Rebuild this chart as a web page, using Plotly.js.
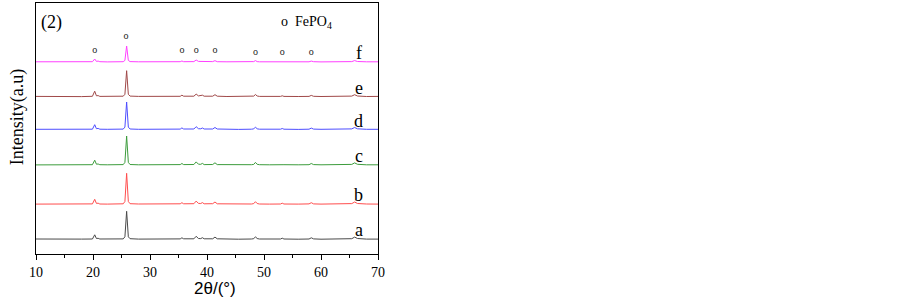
<!DOCTYPE html>
<html>
<head>
<meta charset="utf-8">
<script src="https://cdn.plot.ly/plotly-3.0.1.min.js"></script>
<style>html,body{margin:0;padding:0;background:#fff;}#chart{width:903px;height:299px;}</style>
</head>
<body>
<div id="chart"></div>
<script>
// 2θ positions (degrees), shared by all patterns
const twoTheta = [10,12,14,16,18,19.9,20.3,20.6,20.9,21.2,22.5,24,25.3,25.6,25.9,26.2,26.5,28,30,32,34,35.3,35.6,35.9,37.7,38.1,38.5,38.9,39.2,39.5,41.0,41.4,41.8,43.5,45.5,47.8,48.2,48.5,48.8,49.2,51,52.9,53.2,53.5,56,57.9,58.3,58.7,60,61.5,61.8,62.1,64,65.4,65.9,66.4,68,70];

// intensities (a.u.) of each sample
const intA = [0.3,0.1,0.2,0,0.2,0.3,4.5,0.8,1.0,0.3,0.1,0.2,0.4,2.5,28,2.5,0.6,0.2,0.1,0.2,0.3,0.4,1.5,0.5,0.5,3,0.8,0.7,1.6,0.5,0.5,2.2,0.5,0.2,0.1,0.3,0.6,2.5,0.8,0.3,0.1,0.3,1.1,0.3,0.1,0.3,1.5,0.4,0.1,0.2,0.6,0.2,0.2,0.6,2.2,0.8,0.2,0.2];
const intB = [0.2,0.3,0.1,0.2,0.1,0.4,5,0.9,1.1,0.3,0.2,0.1,0.5,2.8,31,2.8,0.6,0.3,0.2,0.1,0.3,0.5,1.6,0.5,0.6,3.2,0.9,0.8,1.7,0.5,0.6,2.3,0.5,0.3,0.2,0.3,0.7,2.6,0.8,0.3,0.2,0.3,1.1,0.3,0.2,0.4,1.6,0.4,0.2,0.3,0.7,0.3,0.2,0.7,2.3,0.8,0.3,0.2];
const intC = [0.1,0.2,0.3,0.1,0.2,0.3,4.8,0.8,1.0,0.3,0.2,0.2,0.4,2.6,29,2.6,0.5,0.2,0.2,0.3,0.2,0.4,1.5,0.4,0.5,3.1,0.8,0.7,1.6,0.4,0.5,2.2,0.4,0.2,0.2,0.3,0.6,2.6,0.7,0.3,0.2,0.3,1.0,0.3,0.2,0.3,1.5,0.4,0.2,0.2,0.6,0.2,0.3,0.6,2.1,0.7,0.2,0.2];
const intD = [0.2,0.2,0.1,0.3,0.2,0.3,4.8,0.8,1.1,0.3,0.2,0.1,0.4,2.4,27.5,2.4,0.5,0.2,0.1,0.2,0.3,0.4,1.6,0.5,0.5,2.8,0.8,0.7,1.5,0.5,0.5,2.0,0.5,0.2,0.1,0.3,0.6,2.4,0.7,0.3,0.1,0.3,1.0,0.3,0.1,0.3,1.4,0.4,0.2,0.2,0.5,0.2,0.2,0.6,2.0,0.7,0.2,0.2];
const intE = [0.3,0.1,0.2,0.2,0.1,0.4,5.5,0.9,1.1,0.3,0.2,0.2,0.5,2.4,26,2.4,0.6,0.3,0.2,0.2,0.2,0.4,1.5,0.5,0.5,2.6,0.8,0.8,1.5,0.5,0.5,2.0,0.5,0.2,0.2,0.3,0.6,2.2,0.7,0.3,0.2,0.3,0.9,0.3,0.2,0.3,1.3,0.4,0.2,0.2,0.5,0.2,0.2,0.6,2.0,0.7,0.2,0.3];
const intF = [0.2,0.2,0.1,0.2,0.2,0.3,3,0.6,0.9,0.3,0.1,0.2,0.3,1.6,16,1.6,0.4,0.2,0.1,0.2,0.2,0.3,1.0,0.3,0.4,2.0,0.6,0.6,1.0,0.3,0.4,1.3,0.3,0.2,0.1,0.2,0.4,1.4,0.4,0.2,0.1,0.2,0.7,0.2,0.1,0.2,0.9,0.3,0.1,0.2,0.3,0.2,0.2,0.4,1.4,0.5,0.2,0.2];

const sampleNames = ['a','b','c','d','e','f'];
const sampleOffsets = [14.7, 49.7, 89, 124.5, 157.3, 192];
const sampleColors = ['#4a4a4a','#ff4d4d','#3c9c3c','#4d4dff','#a04848','#ff40ff'];
const intensities = [intA,intB,intC,intD,intE,intF];

// FePO4 reflection markers
const markTheta = [20.3,25.8,35.6,38.1,41.4,48.5,53.2,58.3];
const markY = [204,218,204,204,204,202,202,202];

const traces = intensities.map((arr,i)=>({
  x: twoTheta,
  y: arr.map(v=>v+sampleOffsets[i]),
  type:'scatter', mode:'lines',
  line:{color:sampleColors[i], width:1},
  hoverinfo:'skip'
}));
traces.push({
  x: markTheta, y: markY, type:'scatter', mode:'text',
  text: markTheta.map(()=> 'o'),
  textfont:{family:'Liberation Serif', size:10, color:'#222'},
  hoverinfo:'skip'
});

const serif = {family:'Liberation Serif', size:18, color:'#000'};
const annotations = sampleNames.map((n,i)=>({
  x:66.6, y:sampleOffsets[i]+9, xref:'x', yref:'y', text:n, showarrow:false, font:serif
}));
annotations.push({x:10.6, y:232, xref:'x', yref:'y', text:'(2)', showarrow:false,
  font:serif, xanchor:'left', yanchor:'middle'});
annotations.push({x:52.7, y:232, xref:'x', yref:'y', text:'o&nbsp;&nbsp;FePO<sub>4</sub>', showarrow:false,
  font:{family:'Liberation Serif', size:14, color:'#000'}, xanchor:'left', yanchor:'middle'});
annotations.push({x:-0.055, y:137, xref:'x domain', yref:'y', text:'Intensity(a.u)', textangle:-90,
  showarrow:false, xanchor:'center', yanchor:'middle', font:serif});
annotations.push({x:41.4, y:-0.1355, xref:'x', yref:'paper', text:'2θ/(°)', showarrow:false,
  xanchor:'center', yanchor:'middle', font:{family:'Liberation Sans', size:17, color:'#000'}});

const layout = {
  width:903, height:299,
  margin:{l:36, r:525, t:3, b:45, pad:0},
  paper_bgcolor:'#fff', plot_bgcolor:'#fff',
  showlegend:false,
  xaxis:{
    range:[10,70], dtick:10, tick0:10, ticks:'outside', ticklen:5, tickwidth:1, tickcolor:'#000',
    minor:{dtick:5, ticks:'outside', ticklen:3, tickcolor:'#000'},
    showline:true, linecolor:'#000', linewidth:1, mirror:true, showgrid:false, zeroline:false,
    tickfont:{family:'Liberation Serif', size:14, color:'#000'}
  },
  yaxis:{
    range:[0,251], showticklabels:false, ticks:'', showline:true, linecolor:'#000', linewidth:1,
    mirror:true, showgrid:false, zeroline:false
  },
  annotations: annotations
};
Plotly.newPlot('chart', traces, layout, {displayModeBar:false, staticPlot:true});
</script>
</body>
</html>
